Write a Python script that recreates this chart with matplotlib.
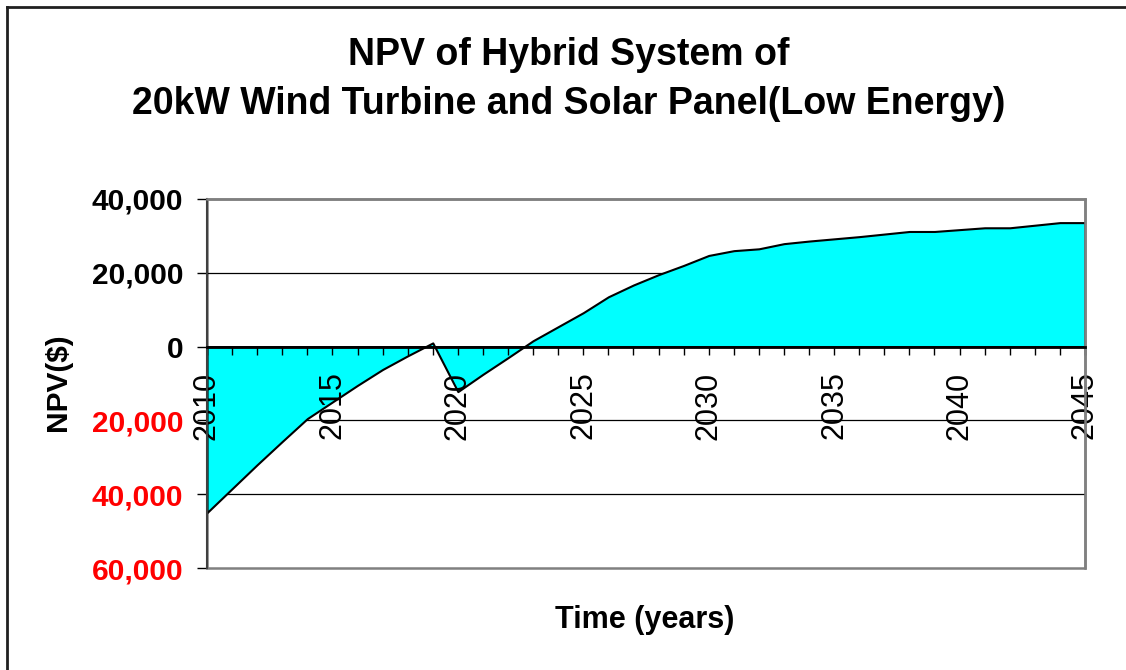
import matplotlib.pyplot as plt
from matplotlib.lines import Line2D
from matplotlib.patches import Rectangle
from matplotlib.ticker import MultipleLocator, FuncFormatter

plt.rcParams['font.family'] = ['Liberation Sans', 'DejaVu Sans']

# NPV per year
years = list(range(2010, 2046))
npv = [-45000, -38500, -32000, -25700, -19500, -15000, -10500, -6200, -2500, 1000,
       -12200, -7500, -3000, 1600, 5400, 9200, 13500, 16700, 19500, 22000,
       24700, 26000, 26500, 27900, 28600, 29200, 29800, 30500, 31200, 31200,
       31700, 32200, 32200, 32900, 33600, 33600]
y_ticks = [-60000, -40000, -20000, 0, 20000, 40000]

fig = plt.figure(figsize=(11.26, 6.7), dpi=100)
ax = fig.add_axes([207 / 1126, 1 - 568 / 670, (1085 - 207) / 1126, (568 - 199) / 670])

ax.fill_between(years, npv, 0, facecolor='#00FFFF', edgecolor='black', linewidth=1.5, zorder=1.5)

ax.set_xlim(2010, 2045)
ax.set_ylim(-60000, 40000)

# gridlines (under the fill)
for v in y_ticks:
    if v not in (0, -60000, 40000):
        ax.axhline(v, color='black', linewidth=0.9, zorder=0.5)

# plot area frame in gray
for s in ['top', 'right']:
    ax.spines[s].set_color('#808080')
    ax.spines[s].set_linewidth(1.8)
ax.spines['left'].set_color('#404040')
ax.spines['left'].set_linewidth(1.5)
ax.spines['bottom'].set_position(('data', 0))
ax.spines['bottom'].set_color('black')
ax.spines['bottom'].set_linewidth(2)
ax.spines['bottom'].set_zorder(4)
ax.add_patch(Rectangle((0, 0), 1, 1, transform=ax.transAxes, fill=False,
                       edgecolor='#808080', linewidth=1.8, zorder=0, clip_on=False))

ax.xaxis.set_major_locator(MultipleLocator(1))
ax.xaxis.set_major_formatter(FuncFormatter(lambda x, p: str(int(x)) if int(x) % 5 == 0 else ''))
ax.tick_params(axis='x', direction='out', length=6, width=1, pad=12,
               labelsize=22, labelrotation=90)
for lbl in ax.get_xticklabels():
    lbl.set_verticalalignment('top')

ax.set_yticks(y_ticks)
ax.yaxis.set_major_formatter(FuncFormatter(lambda v, p: f'{abs(int(v)):,}'))
ax.tick_params(axis='y', direction='out', length=7, width=1, pad=10, labelsize=21.5)
for lbl, v in zip(ax.get_yticklabels(), y_ticks):
    lbl.set_fontweight('bold')
    lbl.set_color('red' if v < 0 else 'black')

fig.text(645 / 1126, 1 - 620 / 670, 'Time (years)', fontsize=22, fontweight='bold',
         ha='center', va='center')
fig.text(58 / 1126, 1 - 382 / 670, 'NPV($)', fontsize=21.5, fontweight='bold',
         ha='center', va='center', rotation=90)
fig.text(569 / 1126, 1 - 55 / 670, 'NPV of Hybrid System of', fontsize=27,
         fontweight='bold', ha='center', va='center')
fig.text(569 / 1126, 1 - 104 / 670, '20kW Wind Turbine and Solar Panel(Low Energy)',
         fontsize=27, fontweight='bold', ha='center', va='center')

# outer chart border (only top and left visible)
fig.add_artist(Line2D([7 / 1126, 7 / 1126], [0, 1 - 7 / 670], color='#202020', linewidth=2))
fig.add_artist(Line2D([7 / 1126, 1], [1 - 7 / 670, 1 - 7 / 670], color='#202020', linewidth=2))

fig.savefig('out.png', dpi=100)
